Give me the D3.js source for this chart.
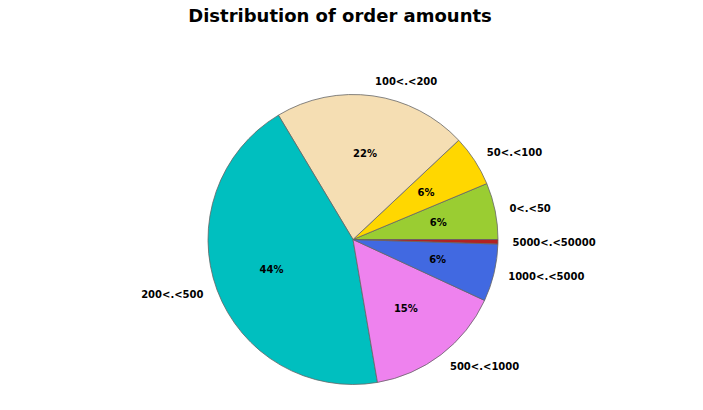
<!DOCTYPE html>
<html>
<head>
<meta charset="utf-8">
<script src="https://cdn.jsdelivr.net/npm/d3@7"></script>
<style>
  body { margin: 0; background: #fff; }
  text { font-family: "DejaVu Sans", sans-serif; font-weight: bold; }
</style>
</head>
<body>
<div id="chart"></div>
<script>
const categories = ["0<.<50", "50<.<100", "100<.<200", "200<.<500", "500<.<1000", "1000<.<5000", "5000<.<50000"];
const shares = [6.3, 5.7, 21.6, 44.1, 15.4, 6.4, 0.5];
const sliceColors = ["#9acd32", "#ffd700", "#f5deb3", "#00bfbf", "#ee82ee", "#4169e1", "#b22222"];

const width = 703, height = 410;
const cx = 353, cy = 239.5, radius = 145;

const data = categories.map((c, i) => ({ name: c, value: shares[i], color: sliceColors[i] }));

const svg = d3.select("#chart").append("svg")
  .attr("width", width)
  .attr("height", height);

svg.append("text")
  .attr("x", 340)
  .attr("y", 22)
  .attr("text-anchor", "middle")
  .style("font-size", "18px")
  .text("Distribution of order amounts");

// counter-clockwise from 3 o'clock, like matplotlib
const pie = d3.pie()
  .sort(null)
  .value(d => d.value)
  .startAngle(Math.PI / 2)
  .endAngle(Math.PI / 2 - 2 * Math.PI);

const arc = d3.arc().innerRadius(0).outerRadius(radius);

const g = svg.append("g").attr("transform", `translate(${cx},${cy})`);
const arcs = pie(data);

g.selectAll("path")
  .data(arcs)
  .enter()
  .append("path")
  .attr("d", arc)
  .attr("fill", d => d.data.color)
  .attr("stroke", "#666")
  .attr("stroke-width", 0.8);

function mid(d) {
  return (d.startAngle + d.endAngle) / 2;
}

g.selectAll(".cat-label")
  .data(arcs)
  .enter()
  .append("text")
  .attr("class", "cat-label")
  .attr("x", d => 1.1 * radius * Math.sin(mid(d)))
  .attr("y", d => -1.1 * radius * Math.cos(mid(d)))
  .attr("dy", "0.35em")
  .attr("text-anchor", d => Math.sin(mid(d)) > 0 ? "start" : "end")
  .style("font-size", "10px")
  .text(d => d.data.name);

g.selectAll(".pct-label")
  .data(arcs.filter(d => d.data.value >= 1))
  .enter()
  .append("text")
  .attr("class", "pct-label")
  .attr("x", d => 0.6 * radius * Math.sin(mid(d)))
  .attr("y", d => -0.6 * radius * Math.cos(mid(d)))
  .attr("dy", "0.35em")
  .attr("text-anchor", "middle")
  .style("font-size", "10px")
  .text(d => Math.round(d.data.value) + "%");
</script>
</body>
</html>
